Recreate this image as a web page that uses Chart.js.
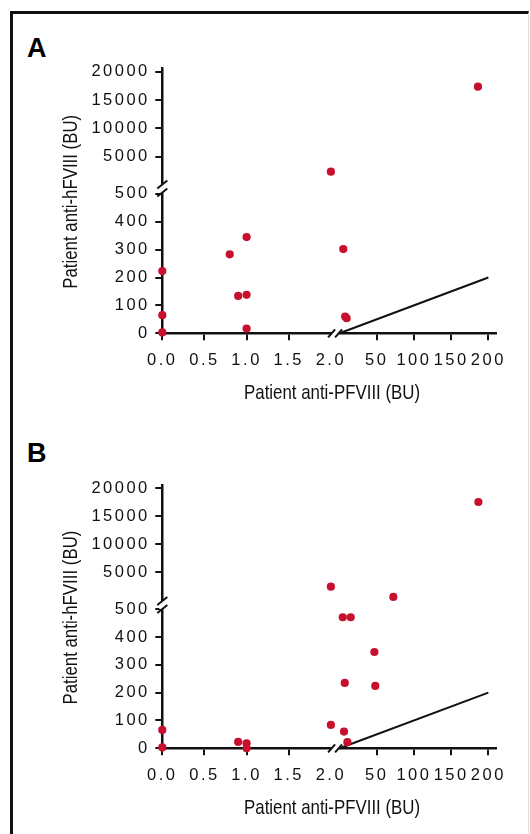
<!DOCTYPE html>
<html>
<head>
<meta charset="utf-8">
<script src="https://cdn.jsdelivr.net/npm/chart.js@4.4.1/dist/chart.umd.min.js"></script>
<style>
  html, body { margin: 0; padding: 0; background: #fff; }
  body { width: 530px; height: 834px; position: relative; overflow: hidden; }
  #frame { position: absolute; left: 10px; top: 11px; width: 519px; height: 840px;
           border-top: 3px solid #111; border-left: 3px solid #111; border-right: 1px solid #ddd;
           box-sizing: border-box; }
  .lbl { position: absolute; left: 27px; font: bold 27px 'Liberation Sans', Arial, sans-serif;
         line-height: 27px; color: #000; }
  .pane { position: absolute; left: 0; width: 530px; height: 417px; }
</style>
</head>
<body>
<div id="frame"></div>
<div class="lbl" style="top:35px">A</div>
<div class="lbl" style="top:440px">B</div>
<div class="pane" style="top:0px"><canvas id="cA" width="530" height="417"></canvas></div>
<div class="pane" style="top:415px"><canvas id="cB" width="530" height="417"></canvas></div>
<script>
// ---- tick labels ----
const xLowTicks  = [0, 0.5, 1.0, 1.5, 2.0];
const xHighTicks = [50, 100, 150, 200];
const yLowTicks  = [0, 100, 200, 300, 400, 500];
const yHighTicks = [5000, 10000, 15000, 20000];

// ---- axis titles ----
const xTitle = 'Patient anti-PFVIII (BU)';
const yTitle = 'Patient anti-hFVIII (BU)';

// ---- identity line (y = x) ----
const refX = [0, 200];
const refY = [0, 200];

// ---- Panel A data (anti-PFVIII x, anti-hFVIII y) ----
const A_lowX_lowY_x  = [0, 0, 0, 0.8, 0.9, 1.0, 1.0, 1.0];
const A_lowX_lowY_y  = [223, 65, 3, 283, 134, 138, 345, 17];
const A_lowX_highY_x = [2.0];
const A_lowX_highY_y = [2350];
const A_highX_lowY_x = [5, 7.5, 9.5];
const A_highX_lowY_y = [302, 60, 54];
const A_highX_highY_x = [186];
const A_highX_highY_y = [17350];

// ---- Panel B data ----
const B_lowX_lowY_x  = [0, 0, 0.9, 1.0, 1.0, 2.0];
const B_lowX_lowY_y  = [66, 3, 23, 18, 0, 84];
const B_lowX_highY_x = [2.0];
const B_lowX_highY_y = [2430];
const B_highX_lowY_x = [4.3, 15, 7, 46.8, 48, 6, 10.5];
const B_highX_lowY_y = [471, 471, 235, 346, 224, 60, 22];
const B_highX_highY_x = [186.6, 72.3];
const B_highX_highY_y = [17550, 600];

const RED = '#c8102e';
const INK = '#111';
const TICK_SPACING = '2.5px';

function pts(xs, ys) { return xs.map((x, i) => ({ x: x, y: ys[i] })); }

function dotSet(xs, ys, xid, yid) {
  return { data: pts(xs, ys), xAxisID: xid, yAxisID: yid,
           backgroundColor: RED, borderWidth: 0, pointRadius: 4.1, pointHoverRadius: 4.1,
           showLine: false, clip: false };
}

function makeScale(axis, position, stack, weight, stackWeight, min, max, ticks, fmt, hideTickAt) {
  return {
    type: 'linear', axis: axis, position: position, stack: stack, weight: weight,
    stackWeight: stackWeight, min: min, max: max,
    afterBuildTicks: s => { s.ticks = ticks.map(v => ({ value: v })); },
    afterFit: s => { if (axis === 'y') s.width = 100; else s.height = 40; },
    grid: { drawOnChartArea: false, drawTicks: true, tickLength: 7, tickWidth: 2,
            color: INK, lineWidth: 2,
            tickColor: c => (hideTickAt !== undefined && c.tick && c.tick.value === hideTickAt) ? 'rgba(0,0,0,0)' : INK },
    border: { display: true, color: INK, width: 2.5 },
    ticks: { color: INK, font: { family: "'Liberation Sans', Arial, sans-serif", size: 16.5 },
             padding: axis === 'y' ? 5.5 : 10, maxRotation: 0, minRotation: 0, autoSkip: false,
             callback: v => fmt(v) }
  };
}

// wider tracking for the tick numbers, as in the original figure
const tracking = {
  id: 'tracking',
  beforeLayout(chart) { chart.ctx.letterSpacing = TICK_SPACING; },
  beforeDraw(chart) { chart.ctx.letterSpacing = TICK_SPACING; }
};

function narrowText(ctx, text, width) {
  const w = ctx.measureText(text).width;
  ctx.scale(width / w, 1);
  ctx.fillText(text, 0, 0);
}

const decor = {
  id: 'decor',
  afterDraw(chart) {
    const ctx = chart.ctx, a = chart.chartArea;
    const by = chart.scales.yLow.top;
    const bx = chart.scales.xLow.right;
    ctx.save();
    ctx.letterSpacing = '0px';
    // y-axis break
    ctx.fillStyle = '#fff';
    ctx.fillRect(a.left - 3, by - 4, 6, 8);
    ctx.strokeStyle = INK; ctx.lineWidth = 2;
    [-4, 4].forEach(d => {
      ctx.beginPath(); ctx.moveTo(a.left - 5, by + d + 4); ctx.lineTo(a.left + 5, by + d - 4); ctx.stroke();
    });
    // x-axis break
    ctx.fillStyle = '#fff';
    ctx.fillRect(bx - 3.5, a.bottom - 3, 7, 6);
    [-3.5, 3.5].forEach(d => {
      ctx.beginPath(); ctx.moveTo(bx + d - 3.5, a.bottom + 4); ctx.lineTo(bx + d + 3.5, a.bottom - 4); ctx.stroke();
    });
    // axis titles (condensed)
    ctx.fillStyle = INK;
    ctx.font = "21px 'Liberation Sans', Arial, sans-serif";
    ctx.textAlign = 'center';
    ctx.textBaseline = 'alphabetic';
    ctx.save();
    ctx.translate((a.left + a.right) / 2 + 3, a.bottom + 65.5);
    narrowText(ctx, xTitle, 176);
    ctx.restore();
    ctx.save();
    ctx.translate(76.5, (a.top + a.bottom) / 2 + 1);
    ctx.rotate(-Math.PI / 2);
    narrowText(ctx, yTitle, 174);
    ctx.restore();
    ctx.restore();
  }
};

function buildPanel(id, cfg, d) {
  const fmt1 = v => v.toFixed(1);
  const fmt0 = v => String(v);
  new Chart(document.getElementById(id), {
    type: 'scatter',
    data: {
      datasets: [
        dotSet(d.llx, d.lly, 'xLow', 'yLow'),
        dotSet(d.lhx, d.lhy, 'xLow', 'yHigh'),
        dotSet(d.hlx, d.hly, 'xHigh', 'yLow'),
        dotSet(d.hhx, d.hhy, 'xHigh', 'yHigh'),
        { data: pts(refX, refY), xAxisID: 'xHigh', yAxisID: 'yLow', showLine: true,
          borderColor: INK, borderWidth: 2, pointRadius: 0, pointHoverRadius: 0, clip: false, order: 5 }
      ]
    },
    options: {
      responsive: false, animation: false, devicePixelRatio: 1, events: [],
      layout: { padding: { left: 62.3, right: 34.2, top: cfg.padTop, bottom: 43.7 } },
      plugins: { legend: { display: false }, tooltip: { enabled: false } },
      scales: {
        xLow:  makeScale('x', 'bottom', 'xs', 0, 172.8, 0, 2.05, xLowTicks, fmt1, 2.0),
        xHigh: makeScale('x', 'bottom', 'xs', 1, 160.7, -6, 210, xHighTicks, fmt0),
        yLow:  makeScale('y', 'left', 'ys', 0, cfg.hLow, 0, cfg.yLowMax, yLowTicks, fmt0),
        yHigh: makeScale('y', 'left', 'ys', 1, cfg.hHigh, cfg.yHighMin, 20600, yHighTicks, fmt0)
      }
    },
    plugins: [tracking, decor]
  });
}

buildPanel('cA', { padTop: 68.3, yLowMax: 519, yHighMin: -611, hLow: 144.8, hHigh: 120.2 }, {
  llx: A_lowX_lowY_x, lly: A_lowX_lowY_y, lhx: A_lowX_highY_x, lhy: A_lowX_highY_y,
  hlx: A_highX_lowY_x, hly: A_highX_lowY_y, hhx: A_highX_highY_x, hhy: A_highX_highY_y
});
buildPanel('cB', { padTop: 69.9, yLowMax: 515, yHighMin: -839, hLow: 143.3, hHigh: 120.1 }, {
  llx: B_lowX_lowY_x, lly: B_lowX_lowY_y, lhx: B_lowX_highY_x, lhy: B_lowX_highY_y,
  hlx: B_highX_lowY_x, hly: B_highX_lowY_y, hhx: B_highX_highY_x, hhy: B_highX_highY_y
});
</script>
</body>
</html>
